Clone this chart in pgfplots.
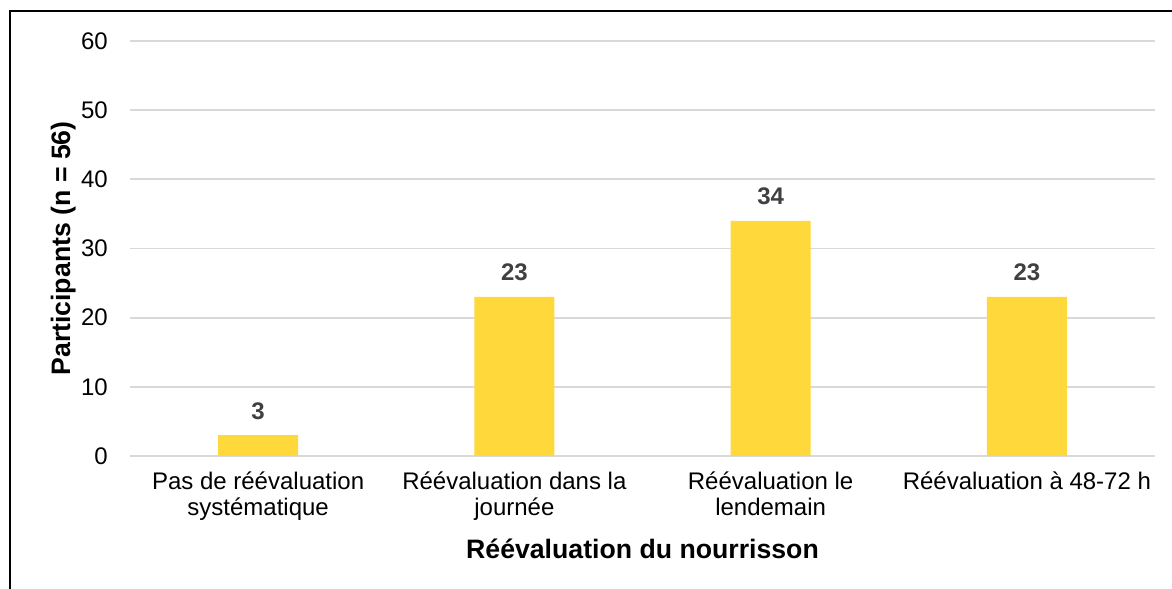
\documentclass[border=0pt]{standalone}
\usepackage{pgfplots}
\pgfplotsset{compat=1.18}
\usepackage{fontspec}
\setmainfont{Liberation Sans}
\definecolor{barc}{HTML}{FFD83B}
\definecolor{gridc}{HTML}{D9D9D9}
\definecolor{valc}{HTML}{404040}
\begin{document}
\begin{tikzpicture}
\path[use as bounding box, fill=white] (-97.5pt,-99.75pt) rectangle (781.5pt,342pt);
\begin{axis}[
  at={(0,0)}, anchor=south west,
  scale only axis,
  width=768.75pt, height=311.25pt,
  xmin=-0.5, xmax=3.5, ymin=0, ymax=60,
  ytick={0,10,20,30,40,50,60},
  xtick={0,1,2,3},
  xticklabels={{Pas de réévaluation\\systématique},{Réévaluation dans la\\journée},{Réévaluation le\\lendemain},{Réévaluation à 48-72 h}},
  axis line style={draw=none},
  major tick length=0pt,
  ymajorgrids, grid style={gridc, line width=1.3pt},
  /pgf/number format/assume math mode=true,
  yticklabel style={font=\fontsize{18}{19.5}\selectfont, anchor=east, inner sep=0pt, xshift=-16.5pt},
  xticklabel style={font=\fontsize{18}{19.5}\selectfont, align=center, anchor=north, inner sep=0pt, yshift=-12pt},
  xlabel={Réévaluation du nourrisson},
  ylabel={Participants (n = 56)},
  xlabel style={font=\fontsize{20}{24}\selectfont\bfseries, at={(axis description cs:0.5,-0.2458)}, anchor=base, inner sep=0pt},
  ylabel style={font=\fontsize{20}{24}\selectfont\bfseries, at={(axis description cs:-0.0585,0.5)}, anchor=base, inner sep=0pt},
  nodes near coords,
  every node near coord/.append style={font=\fontsize{18}{19.5}\selectfont\bfseries, text=valc, anchor=base, inner sep=0pt, yshift=12pt},
  clip=false,
]
\addplot[ybar, bar width=60pt, fill=barc, draw=none] coordinates {(0,3) (1,23) (2,34) (3,23)};
\end{axis}
\draw[line width=1.8pt, black] (-90pt,-99.75pt) -- (-90pt,333.75pt) -- (781.5pt,333.75pt);
\end{tikzpicture}
\end{document}
